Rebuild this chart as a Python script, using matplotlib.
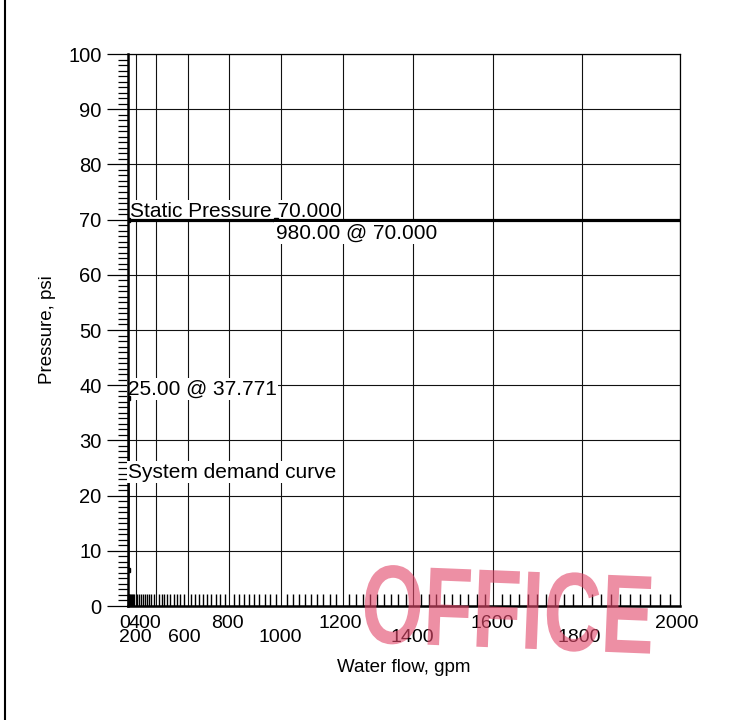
import numpy as np
import matplotlib
matplotlib.use("Agg")
import matplotlib.pyplot as plt
from matplotlib.lines import Line2D
from matplotlib.patches import PathPatch
from matplotlib.textpath import TextPath
from matplotlib.font_manager import FontProperties
from matplotlib.transforms import Affine2D, offset_copy
from matplotlib.ticker import FixedLocator, NullFormatter

plt.rcParams['font.family'] = ['Liberation Sans', 'DejaVu Sans']

# data
flow_ticks = [0, 200, 400, 600, 800, 1000, 1200, 1400, 1600, 1800, 2000]
pressure_ticks = [0, 10, 20, 30, 40, 50, 60, 70, 80, 90, 100]
supply_flow = [0, 980, 2000]
supply_pressure = [70.0, 70.0, 70.0]
supply_points_flow = [0, 980]
supply_points_pressure = [70.0, 70.0]
demand_flow = [0, 25]
demand_pressure = [6.5, 37.771]

# x axis is drawn on an N^1.85 scale
def fwd(q):
    q = np.asarray(q, dtype=float)
    return np.sign(q) * np.abs(q) ** 1.85

def inv(v):
    v = np.asarray(v, dtype=float)
    return np.sign(v) * np.abs(v) ** (1 / 1.85)

fig = plt.figure(figsize=(7.3, 7.2), dpi=100)
ax = fig.add_axes([128 / 730, 1 - 606 / 720, 552 / 730, 552 / 720])
ax.set_xscale('function', functions=(fwd, inv))
ax.set_xlim(0, 2000)
ax.set_ylim(0, 100)

# grid
ax.set_xticks(flow_ticks)
ax.set_xticklabels([])
ax.xaxis.set_minor_locator(FixedLocator(np.arange(0, 2001, 20)))
ax.xaxis.set_minor_formatter(NullFormatter())
ax.tick_params(axis='x', which='major', length=0)
ax.tick_params(axis='x', which='minor', direction='in', length=8.5, width=1.0, color='black')
ax.set_yticks(pressure_ticks)
ax.yaxis.set_minor_locator(FixedLocator(np.arange(0, 101, 1)))
ax.tick_params(axis='y', which='major', direction='out', length=15, width=0.9, labelsize=14.5, pad=4)
ax.tick_params(axis='y', which='minor', direction='out', length=7.5, width=0.9)
ax.grid(True, which='major', color='#111111', lw=0.8, zorder=1)
ax.set_axisbelow(True)
for side in ['top', 'right']:
    ax.spines[side].set_linewidth(0.9)
for side in ['left', 'bottom']:
    ax.spines[side].set_linewidth(1.8)

# x tick labels in two staggered rows
label_dx = [-3, 0, -11, -3, -2, -1, -2, -1, -1, -3, -3]
for i, q in enumerate(flow_ticks):
    dy = -18 if i % 2 == 0 else -31
    tr = offset_copy(ax.get_xaxis_transform(), fig=fig, x=label_dx[i], y=dy, units='dots')
    ax.text(q, 0, str(q), transform=tr, ha='center', va='center', fontsize=14)

ax.set_xlabel('Water flow, gpm', fontsize=13.5, labelpad=35)
ax.set_ylabel('Pressure, psi', fontsize=13.5, labelpad=9)

# curves
ax.plot(supply_flow, supply_pressure, color='black', lw=2.3, zorder=3)
ax.plot(supply_points_flow, supply_points_pressure, 's', color='black', ms=3.5, zorder=3)
ax.plot(demand_flow, demand_pressure, color='black', lw=2.3, zorder=3)
ax.plot(demand_flow, demand_pressure, 's', color='black', ms=3.5, zorder=3)

box = dict(facecolor='white', edgecolor='none', pad=1)
def label(x, y, s, dx, dy, va, z):
    tr = offset_copy(ax.transData, fig=fig, x=dx, y=dy, units='dots')
    ax.text(x, y, s, transform=tr, ha='left', va=va, fontsize=15, bbox=box, zorder=z)

label(supply_points_flow[0], supply_pressure[0], 'Static Pressure 70.000', 2, 3, 'baseline', 2.5)
label(supply_points_flow[1], supply_pressure[1], '980.00 @ 70.000', 0, -4, 'top', 4)
label(demand_flow[0], demand_pressure[1], '25.00 @ 37.771', 0, 3, 'baseline', 2.5)
label(demand_flow[0], 23.2, 'System demand curve', 0, 0, 'baseline', 4)

# scanned page border
fig.add_artist(Line2D([5 / 730, 5 / 730], [0, 1], transform=fig.transFigure, color='black', lw=1.5))

# red "OFFICE" stamp
tp = TextPath((0, 0), 'OFFICE', size=1, prop=FontProperties(family='Liberation Sans', weight='bold'))
stamp_tr = Affine2D().scale(80, 112).rotate_deg(-2.3).translate(360, 78)
fig.add_artist(PathPatch(tp, transform=stamp_tr, facecolor='#e24a6c', edgecolor='none', alpha=0.62, zorder=10))

fig.savefig('out.png', dpi=100)
